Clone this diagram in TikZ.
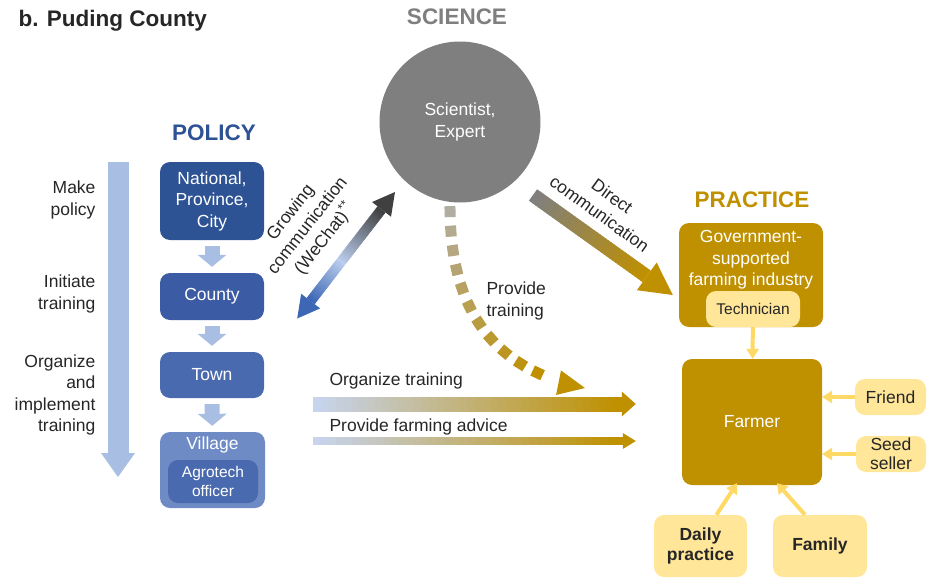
\documentclass[tikz,border=0pt]{standalone}
\usepackage{fontspec}
\setmainfont{Liberation Sans}
\usetikzlibrary{calc}
\usetikzlibrary{arrows.meta}
\usetikzlibrary{decorations.markings}

\definecolor{polA}{HTML}{2E5395}
\definecolor{polB}{HTML}{3B5CA5}
\definecolor{polC}{HTML}{4A6AAF}
\definecolor{polD}{HTML}{6F8BC5}
\definecolor{polLight}{HTML}{A9BEE3}
\definecolor{orgStart}{HTML}{C6D4EE}
\definecolor{sciGray}{HTML}{7F7F7F}
\definecolor{sciLight}{HTML}{B0B0B0}
\definecolor{pracGold}{HTML}{BF9000}
\definecolor{pracLight}{HTML}{FFE699}
\definecolor{pracArrow}{HTML}{FFD966}
\definecolor{wcBlue}{HTML}{3D67B5}
\definecolor{wcLight}{HTML}{B9CCEC}
\definecolor{wcDark}{HTML}{404040}
\definecolor{txt}{HTML}{262626}

\newcommand{\mainsize}{\fontsize{17.5}{21.5}\selectfont}
\newcommand{\smallsize}{\fontsize{15.5}{19}\selectfont}
\newcommand{\headsize}{\fontsize{22.5}{26}\selectfont\bfseries}

% block arrow with a colour gradient: from, to, shaft, half head, head length, colour 1, colour 2
\newcommand{\gradarrow}[7]{%
  \coordinate (ga) at ($(#2)!#5!(#1)$);
  \foreach \k in {0,...,39}{
    \pgfmathsetmacro\pc{100*\k/39}
    \pgfmathsetmacro\tb{min(1,(\k+1.6)/40)}
    \draw[line width=#3, #7!\pc!#6] ($(#1)!\k/40!(ga)$) -- ($(#1)!\tb!(ga)$);
  }
  \fill[#7] ($(ga)!#4!90:(#2)$) -- (#2) -- ($(ga)!#4!-90:(#2)$) -- cycle;
}

\begin{document}
\begin{tikzpicture}[x=1pt, y=-1pt, font=\mainsize, text=txt,
  polbox/.style={rounded corners=10pt, minimum width=104pt, text=white, align=center, inner sep=0pt},
  pracbox/.style={rounded corners=10pt, fill=pracLight, align=center, inner sep=0pt},
  downarr/.style={polLight, line width=15pt, shorten <=6pt, shorten >=6pt, -{Triangle[width=29pt,length=12pt,line width=0pt]}},
  pracarr/.style={pracArrow, line width=4pt, -{Triangle[width=13pt,length=10pt,line width=0pt]}}]
\useasboundingbox (0,0) rectangle (930,581);

% headings
\node [anchor=west, font=\headsize] (title) at (15,21) {b. Puding County};
\node [font=\headsize, text=sciGray] (science) at (457,17) {SCIENCE};
\node [font=\headsize, text=polA] (policy) at (214,133) {POLICY};
\node [font=\headsize, text=pracGold] (practice) at (752,200) {PRACTICE};

% policy
\coordinate (arrtop) at (118,162);
\coordinate (arrbot) at (118,477);
\draw[polLight, line width=21pt, -{Triangle[width=34pt,length=24pt,line width=0pt]}] (arrtop) -- (arrbot);
\node [anchor=east, align=right] (lblmake) at (99,200) {Make\\policy};
\node [anchor=east, align=right] (lblinit) at (99,294) {Initiate\\training};
\node [anchor=east, align=right] (lblorg) at (99,395) {Organize\\and\\implement\\training};

\node [polbox, fill=polA, minimum height=78pt] (national) at (212,201) {National,\\Province,\\City};
\node [polbox, fill=polB, minimum height=47pt] (county) at (212,296.5) {County};
\node [polbox, fill=polC, minimum height=46pt] (town) at (212,375) {Town};
\node [polbox, fill=polD, minimum width=105pt, minimum height=76pt] (village) at (212.5,470) {};
\node [text=white] (villagetxt) at (212.5,445) {Village};
\node [polbox, fill=polC, minimum width=90pt, minimum height=43pt, font=\smallsize] (agro) at (213,481.5) {Agrotech\\officer};

\draw[downarr] (national) -- (county);
\draw[downarr] (county) -- (town);
\draw[downarr] (town) -- (village);

% science
\node [circle, fill=sciGray, minimum size=161pt, text=white, align=center] (sci) at (460,122) {Scientist,\\Expert};

\coordinate (wcA) at ($(county.east)+(33,22)$);
\coordinate (wcB) at (395,192);
\coordinate (wcM) at ($(wcA)!0.45!(wcB)$);
\gradarrow{wcM}{wcA}{10pt}{12pt}{22pt}{wcLight}{wcBlue}
\gradarrow{wcM}{wcB}{10pt}{12pt}{22pt}{wcLight}{wcDark}
\node [rotate=52, align=center] (wclbl) at (308,226) {Growing\\communication\\(WeChat)\textsuperscript{**}};

% practice
\node [rounded corners=10pt, fill=pracGold, minimum width=144pt, minimum height=104pt] (gov) at (751,275) {};
\node [text=white, align=center] (govtxt) at (751,260) {Government-\\supported\\farming industry};
\node [pracbox, minimum width=94pt, minimum height=36pt, font=\smallsize] (tech) at (753,309) {Technician};
\node [rounded corners=10pt, fill=pracGold, minimum width=140pt, minimum height=126pt, text=white] (farmer) at (752,422) {Farmer};
\node [pracbox, minimum width=71pt, minimum height=36pt] (friend) at (890.5,397) {Friend};
\node [pracbox, minimum width=70pt, minimum height=36pt, font=\fontsize{17.5}{19}\selectfont] (seed) at (891,454) {Seed\\seller};
\node [pracbox, minimum width=93pt, minimum height=62pt, font=\fontsize{17.5}{20}\selectfont\bfseries] (daily) at (700.5,546) {Daily\\practice};
\node [pracbox, minimum width=94pt, minimum height=62pt, font=\mainsize\bfseries] (family) at (820,546) {Family};

\draw[pracarr] (tech) -- (farmer);
\draw[pracarr] (friend.west) -- (friend.west -| farmer.east);
\draw[pracarr] (seed.west) -- (seed.west -| farmer.east);
\draw[pracarr] ($(daily.north)+(16,0)$) -- ($(farmer.south)+(-15,-2)$);
\draw[pracarr] ($(family.north)+(-15,0)$) -- ($(farmer.south)+(25,-2)$);

\coordinate (dcA) at (533,195);
\coordinate (dcB) at ($(gov.west)+(-6,20)$);
\gradarrow{dcA}{dcB}{14pt}{17pt}{32pt}{sciGray}{pracGold}
\node [rotate=-36, align=center] (dclbl) at (606,205) {Direct\\communication};

% training and advice
\coordinate (trA) at ($(sci.south)+(-10,4)$);
\coordinate (trB) at (585,388);
\coordinate (trC) at ($(trB)+(-90,-18)$);
\path[decorate, decoration={markings,
    mark=between positions 0.02 and 0.86 step 0.078 with {
      \pgfmathsetmacro\pc{min(100,9*\pgfkeysvalueof{/pgf/decoration/mark info/sequence number})}
      \fill[pracGold!\pc!sciLight] (-5.5,-5.5) rectangle (5.5,5.5);}}]
  (trA) .. controls +(0,105) and (trC) .. (trB);
\coordinate (trH) at ($(trB)!27pt!(trC)$);
\fill[pracGold] ($(trH)!12.5pt!90:(trB)$) -- (trB) -- ($(trH)!12.5pt!-90:(trB)$) -- cycle;
\node [anchor=west, align=left] (trlbl) at (483,301) {Provide\\training};

\coordinate (orgA) at (313,404);
\coordinate (orgB) at ($(farmer.west)+(-46,-18)$);
\gradarrow{orgA}{orgB}{15pt}{12.5pt}{14pt}{orgStart}{pracGold}
\node [anchor=west] (orglbl) at (326,381) {Organize training};

\coordinate (advA) at (313,441);
\coordinate (advB) at ($(farmer.west)+(-46,19)$);
\gradarrow{advA}{advB}{8pt}{8pt}{13pt}{orgStart}{pracGold}
\node [anchor=west] (advlbl) at (326,427) {Provide farming advice};
\end{tikzpicture}
\end{document}
